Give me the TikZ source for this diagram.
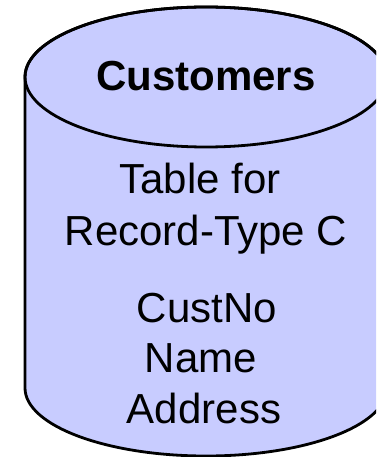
\documentclass[tikz,border=0pt]{standalone}
\usepackage{fontspec}
\setmainfont{Liberation Sans}
\definecolor{dbblue}{RGB}{200,204,255}
\begin{document}
\begin{tikzpicture}[x=1pt,y=1pt,
  lbl/.style={anchor=base,inner sep=0pt,font=\fontsize{42}{50}\selectfont}]
\useasboundingbox (0,0) rectangle (376,-457);
\clip (0,0) rectangle (376,-457);
\draw[fill=dbblue,line width=2.8pt] (25,-77) -- (25,-388) arc (180:360:181 and 68) -- (387,-77) arc (0:180:181 and 70) -- cycle;
\draw[line width=2.8pt] (206,-77) ellipse (181 and 70);
\node[lbl,font=\fontsize{42}{50}\selectfont\bfseries] (title) at (206,-91) {Customers};
\node[lbl] (tab1) at (200,-193) {Table for};
\node[lbl] (tab2) at (206,-245) {Record-Type C};
\node[lbl] (fld1) at (207,-322) {CustNo};
\node[lbl] (fld2) at (201,-372) {Name};
\node[lbl] (fld3) at (204,-423) {Address};
\end{tikzpicture}
\end{document}
